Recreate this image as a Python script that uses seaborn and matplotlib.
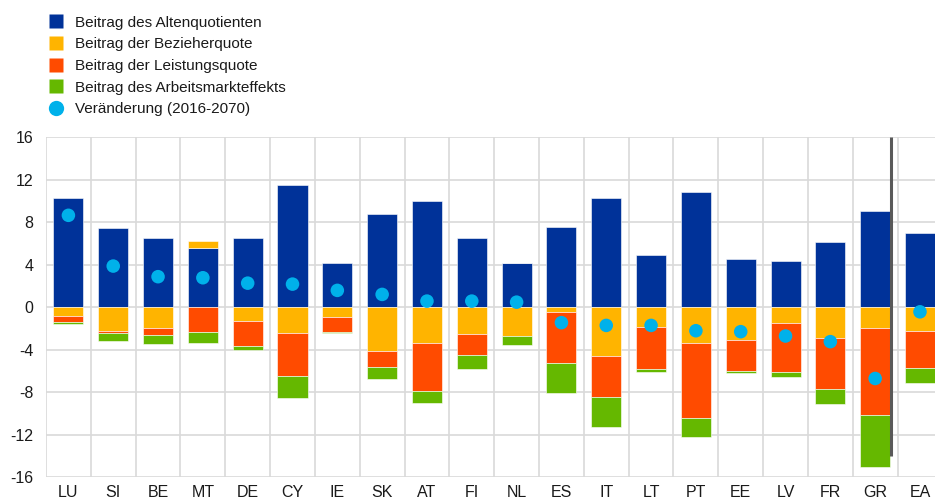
import numpy as np
import pandas as pd
import matplotlib
matplotlib.use("Agg")
import matplotlib.pyplot as plt
from matplotlib.lines import Line2D
import seaborn as sns

# Countries and contributions to the change in pension spending (pp of GDP)
countries = ["LU", "SI", "BE", "MT", "DE", "CY", "IE", "SK", "AT", "FI",
             "NL", "ES", "IT", "LT", "PT", "EE", "LV", "FR", "GR", "EA"]
altenquotient = [10.3, 7.45, 6.55, 5.6, 6.55, 11.55, 4.12, 8.75, 10.04, 6.55,
                 4.12, 7.55, 10.25, 4.94, 10.85, 4.56, 4.31, 6.1, 9.03, 7.02]
bezieherquote = [-0.85, -2.2, -1.95, 0.65, -1.35, -2.45, -0.95, -4.15, -3.4, -2.55,
                 -2.75, -0.45, -4.6, -1.9, -3.4, -3.05, -1.45, -2.95, -1.95, -2.25]
leistungsquote = [-0.58, -0.2, -0.7, -2.35, -2.35, -4.05, -1.4, -1.45, -4.5, -2.0,
                  0.0, -4.85, -3.9, -3.95, -7.0, -3.0, -4.65, -4.8, -8.25, -3.45]
arbeitsmarkt = [-0.15, -0.75, -0.85, -1.0, -0.35, -2.1, -0.1, -1.2, -1.1, -1.25,
                -0.8, -2.8, -2.8, -0.25, -1.85, -0.15, -0.5, -1.35, -4.85, -1.4]
veraenderung = [8.65, 3.87, 2.87, 2.77, 2.26, 2.17, 1.58, 1.2, 0.57, 0.57,
                0.47, -1.46, -1.72, -1.72, -2.22, -2.31, -2.72, -3.25, -6.72, -0.44]

series = [
    ("Beitrag des Altenquotienten", altenquotient, "#003299"),
    ("Beitrag der Bezieherquote", bezieherquote, "#FFB400"),
    ("Beitrag der Leistungsquote", leistungsquote, "#FF4B00"),
    ("Beitrag des Arbeitsmarkteffekts", arbeitsmarkt, "#65B800"),
]
dot_label = "Veränderung (2016-2070)"
dot_color = "#00B1EA"

sns.set_theme(style="whitegrid")
plt.rcParams["font.family"] = ["Liberation Sans", "DejaVu Sans"]
plt.rcParams["axes.unicode_minus"] = False

fig = plt.figure(figsize=(9.35, 5.01), dpi=100)
ax = fig.add_axes([46 / 935, 24 / 501, 896.4 / 935, 339.7 / 501])

pos_base = np.zeros(len(countries))
neg_base = np.zeros(len(countries))
for name, vals, color in series:
    vals = np.asarray(vals, dtype=float)
    bottom = np.where(vals >= 0, pos_base, neg_base)
    df = pd.DataFrame({"land": countries, "wert": vals})
    sns.barplot(data=df, x="land", y="wert", order=countries, color=color,
                bottom=bottom, width=0.67, saturation=1, ax=ax,
                edgecolor="white", linewidth=0.4, zorder=2)
    pos_base = pos_base + np.clip(vals, 0, None)
    neg_base = neg_base + np.clip(vals, None, 0)

dots = pd.DataFrame({"land": countries, "wert": veraenderung})
sns.scatterplot(data=dots, x="land", y="wert", color=dot_color, s=95,
                edgecolor="none", ax=ax, zorder=4)

# separator between the country bars and the euro area aggregate
gr = countries.index("GR")
ax.plot([gr + 0.35, gr + 0.35], [16, -14], color="#595959", lw=2.2,
        solid_capstyle="butt", zorder=5)

ax.set_xlim(-0.5, len(countries) - 0.5)
ax.set_ylim(-16, 16)
ax.set_yticks(np.arange(-16, 17, 4))
ax.set_xlabel("")
ax.set_ylabel("")

ax.xaxis.grid(False)
for b in np.arange(0.5, len(countries) - 0.5, 1.0):
    ax.axvline(b, color="#d9d9d9", lw=1.2, zorder=0)
ax.axvline(-0.5, color="#d9d9d9", lw=1.2, zorder=0)
ax.yaxis.grid(True, color="#d9d9d9", lw=1.2)
ax.set_axisbelow(True)
for s in ax.spines.values():
    s.set_visible(False)
ax.tick_params(axis="both", length=0, labelsize=11.5, colors="#1a1a1a")
ax.tick_params(axis="y", pad=9)
ax.tick_params(axis="x", pad=6)

handles = [Line2D([0], [0], marker="s", color="none", markerfacecolor=c,
                  markeredgecolor="none", markersize=10.5, label=n)
           for n, _, c in series]
handles.append(Line2D([0], [0], marker="o", color="none", markerfacecolor=dot_color,
                      markeredgecolor="none", markersize=11, label=dot_label))
fig.legend(handles=handles, loc="upper left", bbox_to_anchor=(38 / 935, 1 - 5 / 501),
           frameon=False, fontsize=11, handlelength=1.0, handletextpad=0.75,
           labelspacing=0.5, borderpad=0.2, labelcolor="#1a1a1a")

fig.savefig("out.png", dpi=100)
